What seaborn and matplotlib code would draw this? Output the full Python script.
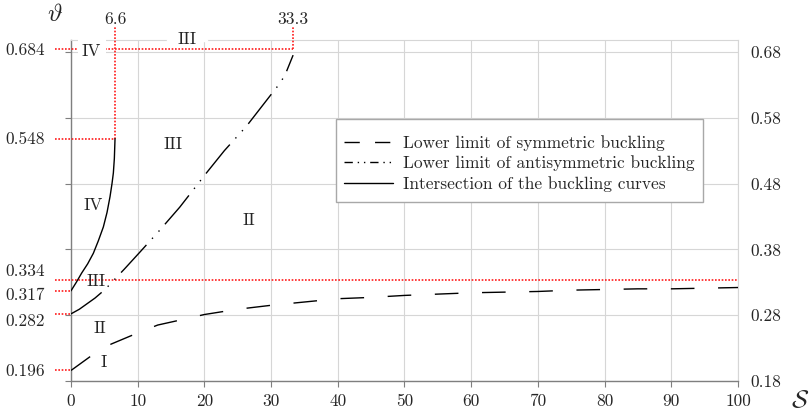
import matplotlib
matplotlib.use("Agg")
import matplotlib.pyplot as plt
import seaborn as sns
from matplotlib.lines import Line2D
from matplotlib.patches import Rectangle

# ---- data ----
sym_x = [0, 3, 6, 10, 13, 17, 20, 25, 30, 35, 40, 45, 50, 55, 60, 65, 70, 75, 80, 85, 90, 95, 100]
sym_y = [0.196, 0.218, 0.236, 0.253, 0.265, 0.274, 0.281, 0.289, 0.295, 0.300, 0.305, 0.307,
         0.310, 0.312, 0.314, 0.315, 0.316, 0.318, 0.319, 0.320, 0.320, 0.321, 0.322]

anti_x = [0, 1.25, 3.6, 5.1, 8, 10.35, 13.3, 16.3, 18.3, 20.3, 23, 26.3, 29.6, 31.3, 32.1, 33.3]
anti_y = [0.282, 0.289, 0.306, 0.319, 0.350, 0.376, 0.409, 0.444, 0.470, 0.496, 0.530, 0.567,
          0.610, 0.632, 0.645, 0.675]

inter_x = [0, 0.8, 1.6, 2.5, 3.35, 4.1, 4.85, 5.4, 5.85, 6.15, 6.35, 6.5, 6.6]
inter_y = [0.317, 0.330, 0.344, 0.358, 0.374, 0.393, 0.414, 0.436, 0.460, 0.480, 0.496, 0.518, 0.548]

left_ticks = [0.196, 0.282, 0.317, 0.334, 0.548, 0.684]
left_labels = ["0.196", "0.282", "0.317", "0.334", "0.548", "0.684"]
right_ticks = [0.18, 0.28, 0.38, 0.48, 0.58, 0.68]
x_ticks = [0, 10, 20, 30, 40, 50, 60, 70, 80, 90, 100]

region_text = ["III", "IV", "III", "IV", "II", "III", "II", "I"]
region_x = [17.4, 3.1, 15.3, 3.35, 26.7, 3.75, 4.35, 4.85]
region_y = [0.699, 0.681, 0.540, 0.447, 0.424, 0.331, 0.260, 0.208]

legend_labels = ["Lower limit of symmetric buckling",
                 "Lower limit of antisymmetric buckling",
                 "Intersection of the buckling curves"]

# ---- style ----
sns.set_theme(style="white")
plt.rcParams["font.family"] = ["cmr10", "DejaVu Serif"]
plt.rcParams["mathtext.fontset"] = "cm"
plt.rcParams["axes.formatter.use_mathtext"] = True
plt.rcParams["axes.unicode_minus"] = False

FS = 12.5
GRID = "#d6d6d6"
AXC = "#7f7f7f"
RED = "#ff1a1a"

fig = plt.figure(figsize=(8.09, 4.13), dpi=100)
ax = fig.add_axes([71 / 809, 1 - 381 / 413, 667 / 809, 341 / 413])
ax.set_xlim(0, 100)
ax.set_ylim(0.18, 0.698)

# curves
sns.lineplot(x=sym_x, y=sym_y, ax=ax, color="black", lw=1.0, sort=False, estimator=None, zorder=5)
ax.lines[-1].set_dashes((17, 17))
sns.lineplot(x=anti_x, y=anti_y, ax=ax, color="black", lw=1.0, sort=False, estimator=None, zorder=5)
ax.lines[-1].set_dashes((27, 6, 1, 6, 1, 6))
sns.lineplot(x=inter_x, y=inter_y, ax=ax, color="black", lw=1.0, sort=False, estimator=None, zorder=5)

# grid / ticks
ax.set_xticks(x_ticks)
ax.set_xticklabels([str(v) for v in x_ticks], fontsize=FS)
ax.set_yticks(left_ticks)
ax.set_yticklabels([""] * len(left_ticks))
ax.set_yticks(right_ticks, minor=True)
ax.grid(True, axis="x", which="major", color=GRID, lw=0.8)
ax.grid(True, axis="y", which="minor", color=GRID, lw=0.8)
ax.grid(False, axis="y", which="major")
ax.tick_params(axis="x", which="major", bottom=True, length=4, width=0.8, color=AXC,
               direction="out", pad=5)
ax.tick_params(axis="y", which="major", left=False, length=0)
ax.tick_params(axis="y", which="minor", left=True, length=4.5, width=0.8, color=AXC,
               direction="out")
for s in ["left", "bottom"]:
    ax.spines[s].set_color(AXC)
    ax.spines[s].set_linewidth(1.0)
for s in ["top", "right"]:
    ax.spines[s].set_color(GRID)
    ax.spines[s].set_linewidth(0.8)

# left labels (some nudged apart, as in the reference)
label_shift = {"0.334": 8, "0.317": -4.5, "0.282": -7.5}
for v, t in zip(left_ticks, left_labels):
    ax.annotate(t, xy=(0, v), xycoords=("axes fraction", "data"),
                xytext=(-26, label_shift.get(t, -1)), textcoords="offset pixels",
                ha="right", va="center", fontsize=FS, annotation_clip=False)

ax2 = ax.twinx()
ax2.set_ylim(ax.get_ylim())
ax2.set_yticks(right_ticks)
ax2.set_yticklabels([f"{v:.2f}" for v in right_ticks], fontsize=FS)
ax2.tick_params(axis="y", right=True, length=0, pad=9)
ax2.grid(False)
for s in ax2.spines.values():
    s.set_visible(False)

# red dotted guide lines
def red(xs, ys):
    ax.plot(xs, ys, color=RED, lw=1.2, ls=(0, (1.0, 1.0)), clip_on=False, zorder=3)

x_out = -2.4
for yv in [0.196, 0.282, 0.317]:
    red([x_out, 0], [yv, yv])
red([x_out, 100], [0.334, 0.334])
red([x_out, 6.6], [0.548, 0.548])
red([x_out, 33.3], [0.684, 0.684])
red([6.6, 6.6], [0.548, 0.719])
red([33.3, 33.3], [0.684, 0.719])
ax.text(6.6, 0.717, "6.6", ha="center", va="bottom", fontsize=FS, clip_on=False)
ax.text(33.3, 0.717, "33.3", ha="center", va="bottom", fontsize=FS, clip_on=False)

# white gap in the top frame line behind the top "III"
ax.plot([14.5, 20.3], [0.698, 0.698], color="white", lw=2.5, clip_on=False, zorder=4)

# region labels
for i, (t, xv, yv) in enumerate(zip(region_text, region_x, region_y)):
    kw = {}
    if i == 1:
        kw["bbox"] = dict(facecolor="white", edgecolor="none", pad=3)
    ax.text(xv, yv, t, ha="center", va="center", fontsize=FS, zorder=6, clip_on=False, **kw)

# axis symbols
fig.text(55 / 809, 1 - 15 / 413, r"$\vartheta$", fontsize=18, ha="center", va="center")
fig.text(800 / 809, 1 - 401 / 413, r"$\mathcal{S}$", fontsize=18, ha="center", va="center")

# legend frame (drawn separately to get the reference's padding)
ax.add_patch(Rectangle((0.3973, 0.525), 0.5502, 0.243, transform=ax.transAxes,
                       facecolor="white", edgecolor="#a8a8a8", lw=1.0, zorder=9))

handles = [Line2D([], [], color="black", lw=1.0, dashes=(11, 11)),
           Line2D([], [], color="black", lw=1.0, dashes=(6, 3.5, 1, 3.5, 1, 3.5)),
           Line2D([], [], color="black", lw=1.0)]
leg = ax.legend(handles, legend_labels, loc="upper left", bbox_to_anchor=(0.397, 0.745),
                frameon=False, fontsize=FS, handlelength=2.85, handletextpad=0.55,
                labelspacing=0.27, borderpad=0.45, borderaxespad=0)
leg.set_zorder(10)

fig.savefig("out.png", dpi=100)
